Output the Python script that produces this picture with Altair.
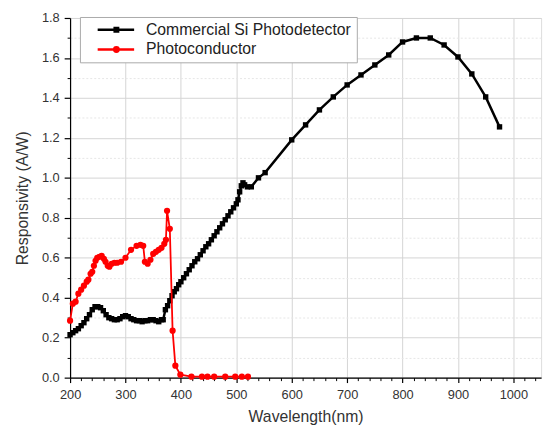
import altair as alt
import pandas as pd

series_names = ["Commercial Si Photodetector", "Photoconductor"]

black_x = [200, 205, 210, 215, 220, 225, 230, 235, 240, 245, 250, 255, 260, 265, 270, 275, 280, 285, 290, 295,
           300, 305, 310, 315, 320, 325, 330, 335, 340, 345, 350, 355, 360, 365, 368, 372, 376, 380, 384, 388,
           392, 396, 400, 405, 410, 415, 420, 425, 430, 435, 440, 445, 450, 455, 460, 465, 470, 475, 480, 485,
           490, 495, 500, 503, 506, 509, 512, 515, 520, 527, 540, 552, 600, 625, 650, 675, 700, 725, 750, 775,
           800, 825, 850, 875, 900, 925, 950, 975]
black_y = [0.215, 0.225, 0.235, 0.245, 0.26, 0.275, 0.295, 0.315, 0.34, 0.355, 0.355, 0.35, 0.335, 0.315, 0.30,
           0.295, 0.29, 0.29, 0.295, 0.305, 0.31, 0.305, 0.295, 0.29, 0.285, 0.285, 0.28, 0.285, 0.285, 0.29,
           0.29, 0.285, 0.28, 0.29, 0.29, 0.34, 0.36, 0.385, 0.41, 0.43, 0.445, 0.465, 0.48, 0.50, 0.52, 0.54,
           0.56, 0.58, 0.595, 0.615, 0.635, 0.655, 0.67, 0.69, 0.71, 0.73, 0.75, 0.77, 0.79, 0.81, 0.83, 0.85,
           0.87, 0.89, 0.93, 0.96, 0.975, 0.965, 0.955, 0.955, 1.0, 1.026, 1.19, 1.265, 1.34, 1.405, 1.465,
           1.515, 1.565, 1.615, 1.68, 1.70, 1.70, 1.665, 1.605, 1.52, 1.405, 1.255]

red_x = [200, 205, 210, 215, 220, 225, 230, 233, 237, 240, 243, 246, 249, 253, 257, 261, 264, 268, 271, 275,
         280, 285, 292, 300, 310, 320, 327, 332, 335, 340, 345, 350, 355, 360, 365, 370, 373, 375, 380, 385,
         390, 399, 419, 438, 448, 460, 480, 498, 510, 521]
red_y = [0.285, 0.37, 0.38, 0.42, 0.44, 0.46, 0.48, 0.49, 0.52, 0.53, 0.56, 0.585, 0.60, 0.605, 0.61, 0.595,
         0.58, 0.56, 0.555, 0.57, 0.575, 0.575, 0.58, 0.60, 0.64, 0.66, 0.665, 0.66, 0.58, 0.57, 0.59, 0.62,
         0.63, 0.64, 0.65, 0.67, 0.69, 0.835, 0.745, 0.235, 0.06, 0.015, 0.005, 0.005, 0.005, 0.005, 0.005,
         0.005, 0.005, 0.005]

x_major = [200, 300, 400, 500, 600, 700, 800, 900, 1000]
x_minor = [v for v in range(220, 1041, 20) if v % 100 != 0]
y_major = [0.0, 0.2, 0.4, 0.6, 0.8, 1.0, 1.2, 1.4, 1.6, 1.8]
y_minor = [0.1, 0.3, 0.5, 0.7, 0.9, 1.1, 1.3, 1.5, 1.7]

df = pd.concat([
    pd.DataFrame({"x": black_x, "y": black_y, "series": series_names[0]}),
    pd.DataFrame({"x": red_x, "y": red_y, "series": series_names[1]}),
], ignore_index=True)

FONT = "Liberation Sans"
xs = alt.Scale(domain=[200, 1050], nice=False, zero=False)
ys = alt.Scale(domain=[0, 1.8], nice=False)

x_major_axis = alt.Axis(values=x_major, format="d", tickSize=5, tickColor="black", domainColor="black",
                        domainWidth=1.2, tickWidth=1.2, labelFontSize=13, labelColor="#333", labelFont=FONT,
                        labelPadding=6, labelFlush=False, labelOverlap=False,
                        grid=True, gridColor="#d4d4d4", gridWidth=1,
                        title="Wavelength(nm)", titleFont=FONT, titleFontSize=16, titleFontWeight="normal",
                        titleColor="#333", titlePadding=8)
x_minor_axis = alt.Axis(values=x_minor, tickSize=3, tickColor="black", tickWidth=1, labels=False,
                        domain=False, grid=False, title=None, orient="bottom")
y_major_axis = alt.Axis(values=y_major, format=".1f", tickSize=6, tickColor="black", domainColor="black",
                        domainWidth=1.2, tickWidth=1.2, labelFontSize=13, labelColor="#333", labelFont=FONT,
                        labelPadding=5, labelFlush=False, labelOverlap=False,
                        grid=True, gridColor="#d4d4d4", gridWidth=1,
                        title="Responsivity (A/W)", titleFont=FONT, titleFontSize=16, titleFontWeight="normal",
                        titleColor="#333", titlePadding=11)
y_minor_axis = alt.Axis(values=y_minor, tickSize=3, tickColor="black", tickWidth=1, labels=False,
                        domain=False, grid=True, gridColor="#e6e6e6", gridDash=[2, 2], title=None,
                        orient="left")

base = alt.Chart(df)
black = base.transform_filter(alt.datum.series == series_names[0])
red = base.transform_filter(alt.datum.series == series_names[1])

black_line = black.mark_line(color="black", strokeWidth=2.5).encode(
    x=alt.X("x:Q", scale=xs, axis=x_major_axis),
    y=alt.Y("y:Q", scale=ys, axis=y_major_axis),
)
black_pts = black.mark_point(shape="square", filled=True, color="black", size=30, opacity=1).encode(
    x=alt.X("x:Q", scale=xs, axis=x_minor_axis),
    y=alt.Y("y:Q", scale=ys, axis=y_minor_axis),
)
red_line = red.mark_line(color="#ff0000", strokeWidth=1.8).encode(
    x=alt.X("x:Q", scale=xs, axis=None),
    y=alt.Y("y:Q", scale=ys, axis=None),
)
red_pts = red.mark_point(shape="circle", filled=True, color="#ff0000", size=40, opacity=1).encode(
    x=alt.X("x:Q", scale=xs, axis=None),
    y=alt.Y("y:Q", scale=ys, axis=None),
)

# legend symbols: a line with a marker drawn from stroked sub-paths (unit = 5 px)
sq_path = "M1,0H8.4M4.2,-0.35H5.4M4.2,0H5.4M4.2,0.35H5.4"
ci_path = "M1,0H8.4M5.25,0A0.45,0.45,0,1,1,4.35,0A0.45,0.45,0,1,1,5.25,0M4.6,0H5.0"

leg = alt.Legend(title=None, orient="none", legendX=10, legendY=-1,
                 strokeColor="#aaaaaa", fillColor="white", padding=5,
                 symbolSize=100, symbolStrokeWidth=2.5, symbolOpacity=1,
                 labelFontSize=16, labelFont=FONT, labelColor="#222", labelOffset=46, rowPadding=4,
                 labelLimit=500, labelExpr="datum.label + '\u00a0\u00a0\u00a0'")

legend_layer = base.transform_filter("datum.x > 5000").mark_point(filled=False, opacity=1).encode(
    x=alt.X("x:Q", scale=xs, axis=None),
    y=alt.Y("y:Q", scale=ys, axis=None),
    color=alt.Color("series:N", scale=alt.Scale(domain=series_names, range=["black", "#ff0000"]), legend=leg),
    shape=alt.Shape("series:N", scale=alt.Scale(domain=series_names, range=[sq_path, ci_path]), legend=leg),
)

chart = alt.layer(black_line, black_pts, red_line, red_pts, legend_layer).resolve_axis(
    x="independent", y="independent"
).properties(
    width=478, height=365,
    padding={"left": 63, "top": 7, "right": 6, "bottom": 50},
    autosize=alt.AutoSizeParams(type="none"),
).configure_view(stroke=None).configure(background="white")

chart.save("out.html", embed_options={"renderer": "svg", "actions": False})
